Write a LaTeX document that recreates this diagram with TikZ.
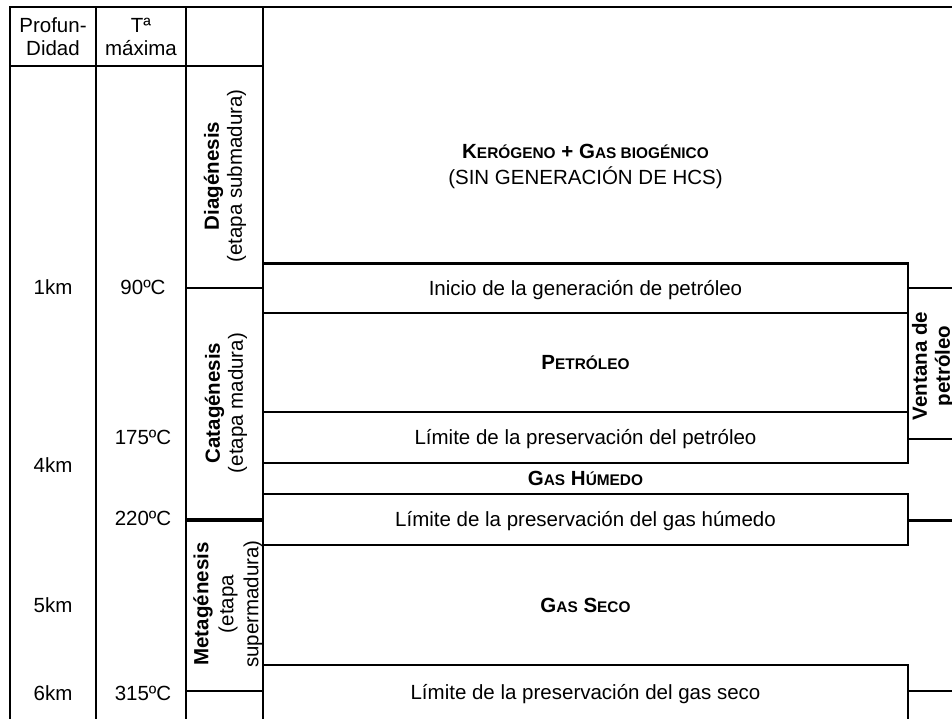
\documentclass[tikz,border=0pt]{standalone}
\usepackage{fontspec}
\setmainfont{Liberation Sans}
\newcommand{\scap}[2]{#1{\fontsize{15.4}{18}\selectfont #2}}

\begin{document}
\begin{tikzpicture}[x=1pt,y=-1pt]
\tikzset{gridline/.style = {-, line width=2pt}}
\tikzset{heavyline/.style = {-, line width=3pt}}
\tikzset{txt/.style = {font=\fontsize{20.5}{23}\selectfont, inner sep=0pt, align=center}}
\tikzset{cell/.style = {txt, text height=14.7pt, text depth=0pt}}
\tikzset{boldcell/.style = {cell, font=\fontsize{20.5}{23}\selectfont\bfseries}}
\tikzset{stage/.style = {txt, rotate=90}}
\useasboundingbox[fill=white] (0,0) rectangle (952,719);
\clip (0,0) rectangle (952,719);
% grid
\draw[gridline] (10,730) -- (10,7) -- (952,7);
\draw[gridline] (10,66) -- (263,66);
\foreach \x in {96,186,263} \draw[gridline] (\x,7) -- (\x,730);
\draw[gridline] (186,288) -- (263,288);
\draw[line width=4pt] (186,519.5) -- (263,519.5);
\draw[gridline] (186,691) -- (263,691);
% boxes
\draw[gridline] (263,263) rectangle (908,463);
\draw[heavyline] (263,263) -- (908,263);
\draw[gridline] (263,313) -- (908,313) (263,412) -- (908,412);
\draw[gridline] (263,494) rectangle (908,545);
\draw[gridline] (908,730) |- (263,665);
\draw[gridline] (952,288) -- (908,288) (908,439) -- (952,439);
\draw[heavyline] (908,520) -- (952,520);
\draw[gridline] (908,691) -- (952,691);
% headers
\node[txt] (prof) at (53,37) {Profun-\\Didad};
\node[txt] (tmax) at (141,37) {Tª\\máxima};
% depth and temperature
\node[cell] (d1) at (53,287) {1km};
\node[cell] (d4) at (53,465) {4km};
\node[cell] (d5) at (53,605) {5km};
\node[cell] (d6) at (53,693) {6km};
\node[cell] (t90) at (143,287) {90ºC};
\node[cell] (t175) at (143,437) {175ºC};
\node[cell] (t220) at (143,518) {220ºC};
\node[cell] (t315) at (143,693) {315ºC};
% stages
\node[stage] (diag) at (225,176) {\textbf{Diagénesis}\\(etapa submadura)};
\node[stage] (cata) at (226,403) {\textbf{Catagénesis}\\(etapa madura)};
\node[stage, font=\fontsize{20.5}{25}\selectfont] (meta) at (228,604) {\textbf{Metagénesis}\\(etapa\\supermadura)};
\node[stage] (vent) at (933,366) {\textbf{Ventana de}\\\textbf{petróleo}};
% products
\node[txt, font=\fontsize{20.5}{26}\selectfont] (kero) at (585.5,166) {\textbf{\scap{K}{ERÓGENO} + \scap{G}{AS BIOGÉNICO}}\\(SIN GENERACIÓN DE HCS)};
\node[cell] (inicio) at (585.5,288) {Inicio de la generación de petróleo};
\node[boldcell] (petro) at (585.5,362) {\scap{P}{ETRÓLEO}};
\node[cell] (limpet) at (585.5,437) {Límite de la preservación del petróleo};
\node[boldcell] (humedo) at (585.5,478.5) {\scap{G}{AS} \scap{H}{ÚMEDO}};
\node[cell] (limhum) at (585.5,519) {Límite de la preservación del gas húmedo};
\node[boldcell] (seco) at (585.5,605) {\scap{G}{AS} \scap{S}{ECO}};
\node[cell] (limseco) at (585.5,692) {Límite de la preservación del gas seco};
\end{tikzpicture}
\end{document}
